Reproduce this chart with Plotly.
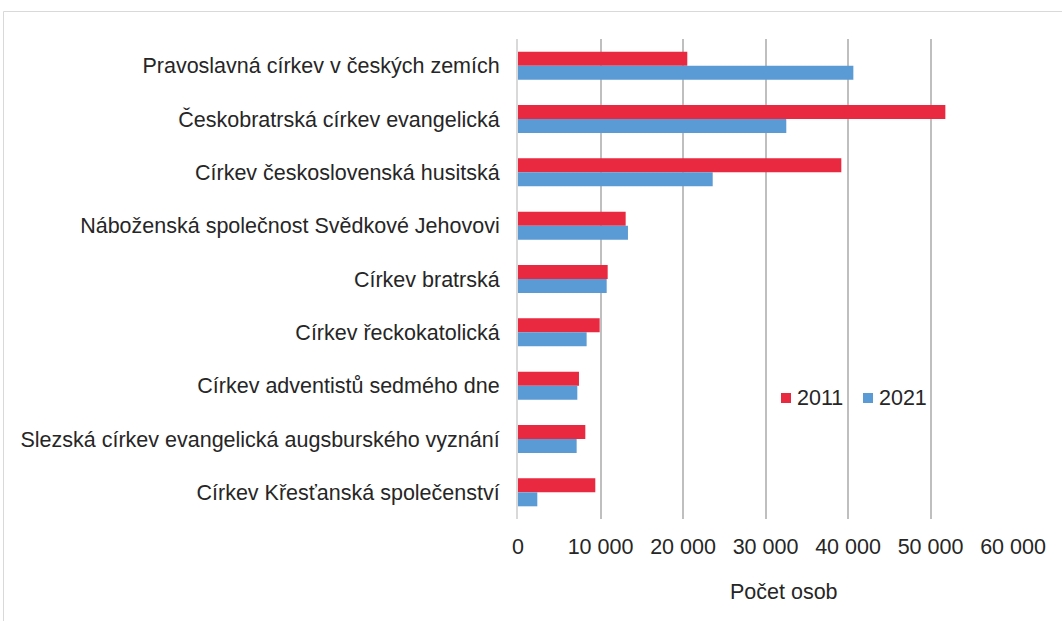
import plotly.graph_objects as go

categories = [
    "Pravoslavná církev v českých zemích",
    "Českobratrská církev evangelická",
    "Církev československá husitská",
    "Náboženská společnost Svědkové Jehovovi",
    "Církev bratrská",
    "Církev řeckokatolická",
    "Církev adventistů sedmého dne",
    "Slezská církev evangelická augsburského vyznání",
    "Církev Křesťanská společenství",
]
values_2011 = [20520, 51800, 39190, 13050, 10870, 9900, 7390, 8160, 9370]
values_2021 = [40650, 32520, 23600, 13330, 10750, 8320, 7190, 7110, 2340]
series_names = ["2011", "2021"]

tick_vals = [0, 10000, 20000, 30000, 40000, 50000, 60000]
tick_text = ["0", "10 000", "20 000", "30 000", "40 000", "50 000", "60 000"]

red = "#E8293F"
blue = "#5B9BD5"
text_color = "#262626"
font_family = "Liberation Sans, Arial, sans-serif"
fsize = 21.5

fig = go.Figure()
fig.add_trace(go.Bar(y=categories, x=values_2011, name=series_names[0], orientation="h",
                     marker=dict(color=red, line=dict(width=0))))
fig.add_trace(go.Bar(y=categories, x=values_2021, name=series_names[1], orientation="h",
                     marker=dict(color=blue, line=dict(width=0))))

# legend drawn by hand so the square sits close to its label, like the original
legend_shapes = []
legend_notes = []
for name, color, x0 in [(series_names[0], red, 0.5313), (series_names[1], blue, 0.697)]:
    legend_shapes.append(dict(type="rect", xref="paper", yref="paper",
                              x0=x0, x1=x0 + 0.0202, y0=0.2417, y1=0.2625,
                              fillcolor=color, line=dict(width=0)))
    legend_notes.append(dict(text=name, x=x0 + 0.0283, y=0.252, xref="paper", yref="paper",
                             xanchor="left", yanchor="middle", showarrow=False,
                             font=dict(size=fsize, color=text_color)))

fig.update_layout(
    width=1062, height=621,
    margin=dict(l=518, r=49, t=39, b=102),
    paper_bgcolor="white", plot_bgcolor="white",
    font=dict(family=font_family, size=fsize, color=text_color),
    barmode="group", bargap=0.476, bargroupgap=0,
    showlegend=False,
    xaxis=dict(range=[0, 60000], tickvals=tick_vals, ticktext=tick_text,
               showgrid=True, gridcolor="#BFBFBF", gridwidth=2,
               zeroline=False, showline=False, ticks="", ticklabelstandoff=12),
    yaxis=dict(autorange="reversed", showgrid=False, zeroline=False,
               showline=True, linecolor="#D9D9D9", linewidth=2,
               ticks="", ticklabelstandoff=12),
    annotations=[dict(text="Počet osob", x=0.537, y=-0.152, xref="paper", yref="paper",
                      xanchor="center", yanchor="middle", showarrow=False,
                      font=dict(size=fsize, color=text_color))] + legend_notes,
    shapes=[dict(type="rect", xref="paper", yref="paper",
                 x0=-1.0394, y0=-0.4, x1=1.2, y1=1.0573,
                 line=dict(color="#D9D9D9", width=1), layer="below")] + legend_shapes,
)

fig.write_html("out.html", config={"displayModeBar": False},
               post_script="document.body.style.margin='0';")
